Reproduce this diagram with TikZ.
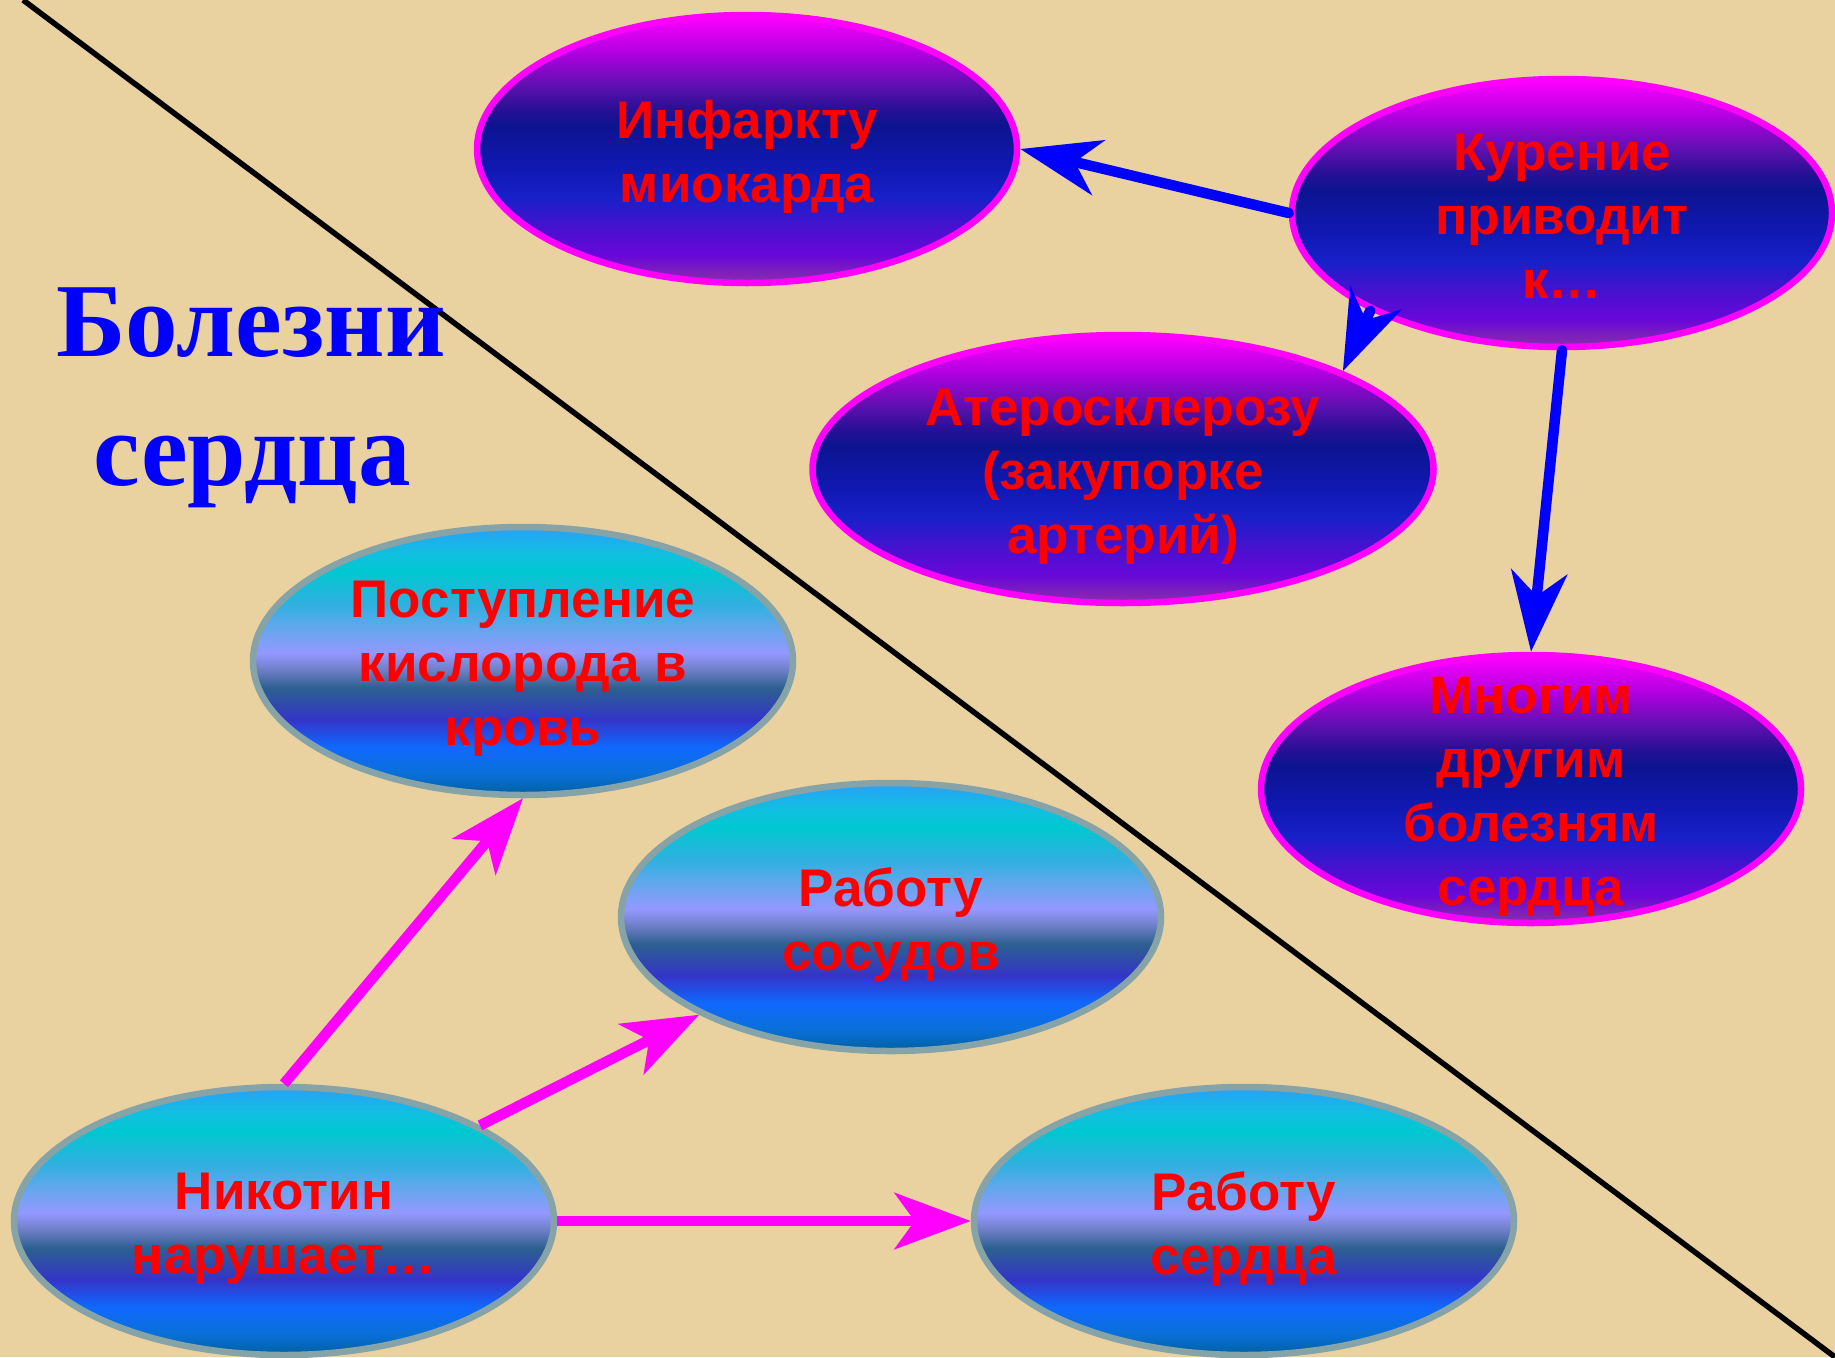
\documentclass[tikz,border=0pt]{standalone}
\usepackage{fontspec}
\setmainfont{Liberation Serif}
\newfontfamily\ovalfont{Liberation Sans}
\usepackage{tikz}
\usetikzlibrary{
	shapes.geometric,
	arrows.meta
}

\definecolor{parchment}{HTML}{EAD1A0}
\definecolor{titleblue}{HTML}{0000FF}
\definecolor{ovalred}{HTML}{FF0000}
\definecolor{ovalpink}{HTML}{FF00FF}
\definecolor{ovalgrey}{HTML}{86A4A8}
\definecolor{arrowblue}{HTML}{0000FF}
\definecolor{arrowpink}{HTML}{FF00FF}

\definecolor{dkA}{HTML}{8A30A8}
\definecolor{dkB}{HTML}{6A08D8}
\definecolor{dkC}{HTML}{4A10D0}
\definecolor{dkD}{HTML}{1820C8}
\definecolor{dkE}{HTML}{1018B0}
\definecolor{dkF}{HTML}{0C1490}
\definecolor{dkG}{HTML}{2E1098}
\definecolor{dkH}{HTML}{6010B0}
\definecolor{dkI}{HTML}{B000E0}
\definecolor{dkJ}{HTML}{FF00FF}

\definecolor{ltA}{HTML}{0060A0}
\definecolor{ltB}{HTML}{0A70D8}
\definecolor{ltC}{HTML}{1068FF}
\definecolor{ltD}{HTML}{3434C8}
\definecolor{ltE}{HTML}{2C6090}
\definecolor{ltF}{HTML}{7080C8}
\definecolor{ltG}{HTML}{9498FF}
\definecolor{ltH}{HTML}{60A8EC}
\definecolor{ltI}{HTML}{30B0E0}
\definecolor{ltJ}{HTML}{00C8D0}
\definecolor{ltK}{HTML}{10C0E0}
\definecolor{ltL}{HTML}{2AA0F8}

\pgfdeclareverticalshading{darkgrad}{100bp}{color(0bp)=(dkA); color(25bp)=(dkA);
	color(30bp)=(dkB); color(35bp)=(dkC); color(41bp)=(dkD); color(47bp)=(dkE);
	color(54.5bp)=(dkF); color(58bp)=(dkG); color(62bp)=(dkH); color(68bp)=(dkI);
	color(75bp)=(dkJ); color(100bp)=(dkJ)}

\pgfdeclareverticalshading{lightgrad}{100bp}{color(0bp)=(ltA); color(25bp)=(ltA);
	color(29bp)=(ltB); color(34bp)=(ltC); color(39bp)=(ltD); color(45bp)=(ltE);
	color(48.5bp)=(ltF); color(51.5bp)=(ltG); color(56.5bp)=(ltH); color(60.5bp)=(ltI);
	color(67bp)=(ltJ); color(70bp)=(ltK); color(75bp)=(ltL); color(100bp)=(ltL)}

\tikzset{
	oval/.style={ellipse, line width=6.5pt, inner sep=0pt,
		minimum width=540pt, minimum height=268pt},
	dark oval/.style={oval, draw=ovalpink, shade, shading=darkgrad},
	light oval/.style={oval, draw=ovalgrey, shade, shading=lightgrad},
	oval text/.style={text=ovalred, align=center, inner sep=0pt, yshift=-8pt,
		font=\ovalfont\bfseries\fontsize{53}{64}\selectfont},
	title text/.style={text=titleblue, anchor=base, inner sep=0pt,
		font=\bfseries\fontsize{105}{124}\selectfont},
	divider/.style={draw=black, line width=5.5pt},
	blue arrow/.style={draw=arrowblue, line width=10.5pt, line cap=round,
		-{Stealth[length=80pt, width=56pt, inset=24pt]}},
	pink arrow/.style={draw=arrowpink, line width=10.5pt,
		-{Stealth[length=76pt, width=56pt, inset=20pt]}}
}

\begin{document}
\begin{tikzpicture}[x=1pt, y=-1pt]
	\useasboundingbox (0,0) rectangle (1835,1357);
	\fill[parchment] (0,0) rectangle (1835,1357);

	\coordinate (cut top)    at (23,0);
	\coordinate (cut bottom) at (1835,1357);
	\draw[divider] (cut top) -- (cut bottom);

	\node [title text] (title1) at (251,356) {Болезни};
	\node [title text] (title2) at (252,485) {сердца};

	\draw
		node [dark oval]                    (inf)  at (747,149)   {}
		node [dark oval]                    (kur)  at (1562,213)  {}
		node [dark oval,minimum width=621pt] (ater) at (1123,469)  {}
		node [dark oval]                    (mnog) at (1531,789)  {}
		node [light oval]                   (post) at (523,661)   {}
		node [light oval]                   (sos)  at (891,917)   {}
		node [light oval]                   (nik)  at (284,1221)  {}
		node [light oval]                   (serd) at (1244,1221) {}
	;

	\draw
		node [oval text]            (inf-t)  at (inf)  {Инфаркту\\миокарда}
		node [oval text,yshift=5pt] (kur-t)  at (kur)  {Курение\\приводит\\к…}
		node [oval text]            (ater-t) at (ater) {Атеросклерозу\\(закупорке\\артерий)}
		node [oval text]            (mnog-t) at (mnog) {Многим\\другим\\болезням\\сердца}
		node [oval text]            (post-t) at (post) {Поступление\\кислорода в\\кровь}
		node [oval text]            (sos-t)  at (sos)  {Работу\\сосудов}
		node [oval text]            (nik-t)  at (nik)  {Никотин\\нарушает…}
		node [oval text]            (serd-t) at (serd) {Работу\\сердца}
	;

	\draw
		(kur.west)  edge[blue arrow] (inf.east)
		(kur.207)   edge[blue arrow] (ater.24)
		(kur.south) edge[blue arrow] (mnog.north)
		(nik.north) edge[pink arrow] (post.south)
		(nik.26)    edge[pink arrow] (sos.207)
		(nik.east)  edge[pink arrow] (serd.west)
	;
\end{tikzpicture}
\end{document}
